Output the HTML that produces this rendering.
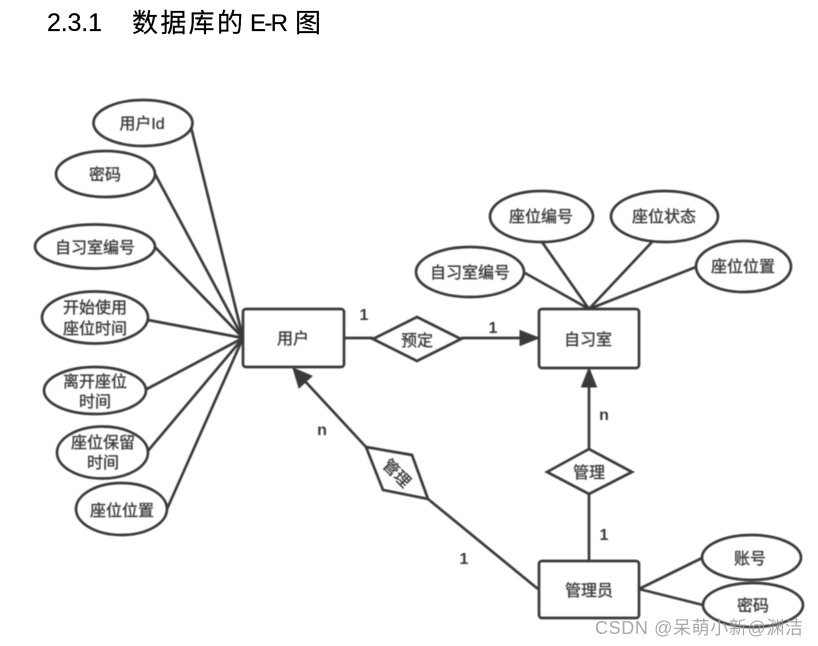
<!DOCTYPE html>
<html lang="zh">
<head>
<meta charset="utf-8">
<title>2.3.1 数据库的 E-R 图</title>
<style>
html,body{margin:0;padding:0;background:#fff;width:818px;height:646px;overflow:hidden}
svg{display:block}
.d{filter:blur(.45px)}
.s{fill:#fff;stroke:#3a3a3a;stroke-width:2.7}
.l{fill:none;stroke:#3a3a3a;stroke-width:2.7}
.t{font-family:"Liberation Sans","Noto Sans CJK SC",sans-serif;font-size:16px;fill:#3a3a3a;stroke:#3a3a3a;stroke-width:.35;text-anchor:middle}
.n{font-family:"Liberation Sans",sans-serif;font-size:16px;font-weight:bold;fill:#3a3a3a;text-anchor:middle}
.h{fill:#000;stroke:#000;stroke-width:.2}
</style>
</head>
<body>
<svg width="818" height="646" viewBox="0 0 818 646" xmlns="http://www.w3.org/2000/svg">
<text class="h" x="47" y="31" font-family="Liberation Sans,sans-serif" font-size="25" textLength="55">2.3.1</text>
<text class="h" x="132" y="32" font-family="'Liberation Sans','Noto Sans CJK SC',sans-serif" font-size="26" textLength="111">数据库的</text>
<text class="h" x="250" y="31" font-family="Liberation Sans,sans-serif" font-size="24" textLength="38">E-R</text>
<text class="h" x="295" y="32" font-family="'Liberation Sans','Noto Sans CJK SC',sans-serif" font-size="26">图</text>

<g class="d">
<!-- connectors -->
<path class="l" d="M190 123L243 338M155 174L243 338M155 247L243 338M148 320L243 338M145 390L243 338M147 452L243 338M167 509L243 338"/>
<path class="l" d="M525 273L589 309M542 242L589 309M652 242L589 309M696 267L589 309"/>
<path class="l" d="M344 338H373M461 338H525M589 449V382M589 494V560M366 447L303 379M428 499L538 589M639 589L702 558M639 589L703 605"/>
<polygon points="539,338 520,330.500 520,345.500" fill="#3a3a3a" stroke="#3a3a3a" stroke-width="1"/>
<polygon points="589,368 581.500,387 596.500,387" fill="#3a3a3a" stroke="#3a3a3a" stroke-width="1"/>
<polygon points="293,368 299,388 312,376" fill="#3a3a3a" stroke="#3a3a3a" stroke-width="1"/>

<!-- entities -->
<rect class="s" x="243" y="309" width="101" height="58" rx="3"/>
<rect class="s" x="539" y="309" width="100" height="59" rx="3"/>
<rect class="s" x="539" y="561" width="100" height="57" rx="3"/>

<!-- relationships -->
<polygon class="s" points="373,339 417,317 461,339 417,361"/>
<polygon class="s" points="547,472 589,449 632,472 589,494"/>
<polygon class="s" points="366,447 412,455 428,499 383,490"/>

<!-- attributes -->
<ellipse class="s" cx="143" cy="123" rx="49.500" ry="23"/>
<ellipse class="s" cx="105.500" cy="174" rx="49.500" ry="23"/>
<ellipse class="s" cx="95" cy="246.500" rx="60" ry="22"/>
<ellipse class="s" cx="95" cy="317.500" rx="53" ry="26"/>
<ellipse class="s" cx="95" cy="390.500" rx="51" ry="23.500"/>
<ellipse class="s" cx="102.500" cy="452.500" rx="45.500" ry="26"/>
<ellipse class="s" cx="121.500" cy="509" rx="45.500" ry="26"/>
<ellipse class="s" cx="541.500" cy="216.500" rx="51.500" ry="25.500"/>
<ellipse class="s" cx="664.500" cy="216.500" rx="53.500" ry="25.500"/>
<ellipse class="s" cx="470" cy="272" rx="54" ry="25"/>
<ellipse class="s" cx="743.500" cy="266.500" rx="47.500" ry="25.500"/>
<ellipse class="s" cx="751.500" cy="557.500" rx="49.500" ry="22.500"/>
<ellipse class="s" cx="753" cy="605" rx="50" ry="22"/>

<!-- labels -->
<text class="t" x="142" y="129">用户Id</text>
<text class="t" x="105" y="180">密码</text>
<text class="t" x="95" y="253">自习室编号</text>
<text class="t" x="95" y="313">开始使用</text>
<text class="t" x="95" y="334">座位时间</text>
<text class="t" x="95" y="387">离开座位</text>
<text class="t" x="95" y="407">时间</text>
<text class="t" x="103" y="448">座位保留</text>
<text class="t" x="103" y="468">时间</text>
<text class="t" x="122" y="516">座位位置</text>
<text class="t" x="293" y="344">用户</text>
<text class="t" x="417" y="346">预定</text>
<text class="t" x="588" y="345">自习室</text>
<text class="t" x="541" y="222">座位编号</text>
<text class="t" x="664" y="222">座位状态</text>
<text class="t" x="470" y="278">自习室编号</text>
<text class="t" x="743" y="272">座位位置</text>
<text class="t" x="589" y="478">管理</text>
<text class="t" x="589" y="596">管理员</text>
<text class="t" x="750" y="564">账号</text>
<text class="t" x="753" y="611">密码</text>
<text class="t" transform="translate(397 473) rotate(45)" x="0" y="6">管理</text>

<text class="n" x="364" y="320">1</text>
<text class="n" x="493" y="333">1</text>
<text class="n" x="322" y="435">n</text>
<text class="n" x="604" y="420">n</text>
<text class="n" x="604" y="540">1</text>
<text class="n" x="464" y="564">1</text>
</g>

<text x="595" y="634" font-family="'Liberation Sans','Noto Sans CJK SC',sans-serif" font-size="18" fill="#9a9a9a" fill-opacity=".85" textLength="208">CSDN @呆萌小新@渊洁</text>
</svg>
</body>
</html>
